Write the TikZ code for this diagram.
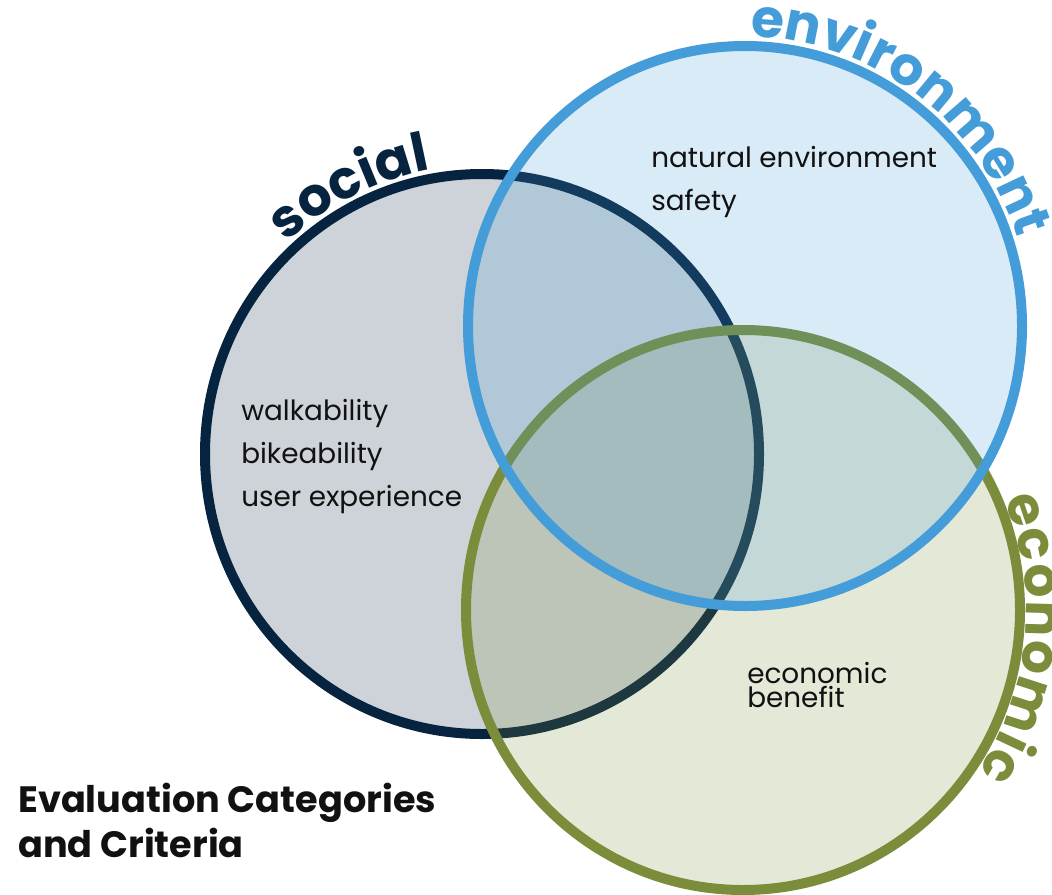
\documentclass[tikz,border=0pt]{standalone}
\usepackage{fontspec}
\setmainfont{Poppins}
\usetikzlibrary{decorations.text,calc}
\definecolor{socc}{HTML}{06233F}
\definecolor{envc}{HTML}{449CD8}
\definecolor{ecoc}{HTML}{7B8D3B}
\definecolor{txtc}{HTML}{111111}
\newcommand{\curvefont}{\fontsize{40}{40}\selectfont\bfseries}
\begin{document}
\begin{tikzpicture}[x=0.75pt,y=0.75pt,
  venn/.style={line width=7.5pt, fill opacity=0.2},
  body/.style={font=\fontsize{20.9}{24}\selectfont, anchor=base west, inner sep=0pt, text=txtc},
  titletext/.style={font=\fontsize{27.5}{33}\selectfont\bfseries, anchor=base west, inner sep=0pt, text=txtc},
  curved/.style={decorate, decoration={text along path, text align=fit to path, text={#1}}}]
\useasboundingbox (0,0) rectangle (1052,-895);
\fill[white] (0,0) rectangle (1052,-895);
\coordinate (socC) at (482,-454);
\coordinate (envC) at (745,-326);
\coordinate (ecoC) at (743,-610);
% circles
\draw[venn, draw=socc, fill=socc] (socC) ellipse [x radius=277, y radius=280];
\draw[venn, draw=ecoc, fill=ecoc] (ecoC) ellipse [x radius=277, y radius=280];
\draw[venn, draw=envc, fill=envc] (envC) ellipse [x radius=277, y radius=280];
% curved labels
\path[curved={|\curvefont\color{socc}|social}]
  ($(socC)+(133:286 and 289)$) arc[start angle=133, end angle=101, x radius=286, y radius=289];
\path[curved={|\curvefont\color{envc}|environment}]
  ($(envC)+(89:286 and 289)$) arc[start angle=89, end angle=19, x radius=286, y radius=289];
\path[curved={|\curvefont\color{ecoc}|economic}]
  ($(ecoC)+(22.5:283 and 289)$) arc[start angle=22.5, end angle=-34, x radius=283, y radius=289];
% criteria
\node[body] (walk) at (241,-420) {walkability};
\node[body] (bike) at (241,-463) {bikeability};
\node[body] (user) at (241,-506) {user experience};
\node[body] (nat) at (651,-167) {natural environment};
\node[body] (safe) at (651,-210) {safety};
\node[body] (eco1) at (747,-683) {economic};
\node[body] (eco2) at (747,-707) {benefit};
% title
\node[titletext] (t1) at (18,-812) {Evaluation Categories};
\node[titletext] (t2) at (18,-857) {and Criteria};
\end{tikzpicture}
\end{document}
